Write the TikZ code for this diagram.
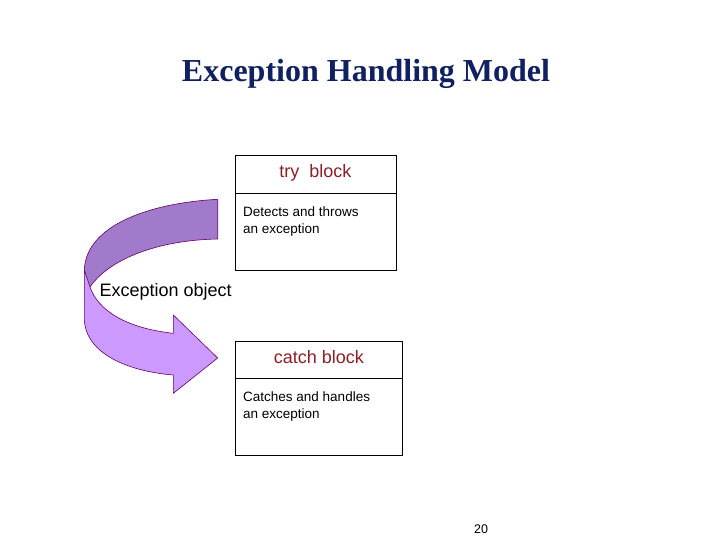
\documentclass[tikz,border=0pt]{standalone}
\usepackage{fontspec}
\setmainfont{Liberation Serif}
\setsansfont{Liberation Sans}
\definecolor{titleblue}{RGB}{16,32,96}
\definecolor{headred}{RGB}{140,30,40}
\definecolor{darkband}{RGB}{161,122,203}
\definecolor{lightband}{RGB}{204,153,255}
\definecolor{bandline}{RGB}{102,0,102}
\tikzset{
  boxpart/.style={draw=black, line width=0.8pt, inner sep=0pt, minimum height=#1, anchor=north west},
  headtext/.style={font=\sffamily\fontsize{18}{20}\selectfont, text=headred},
  bodytext/.style={font=\sffamily\fontsize{13.5}{17}\selectfont, align=left, anchor=north west, inner sep=0pt},
  band/.style={draw=bandline, line width=0.6pt, line join=round}
}
\begin{document}
\begin{tikzpicture}[x=1pt,y=-1pt]
\useasboundingbox (0,0) rectangle (720,540);
\fill[white] (0,0) rectangle (720,540);
% title
\node[font=\bfseries\fontsize{32}{36}\selectfont, text=titleblue] (title) at (366,73.5) {Exception Handling Model};
% try block
\node[boxpart=38pt, minimum width=161pt] (tryhead) at (235,155) {};
\node[boxpart=77pt, minimum width=161pt] (trybody) at (235,193) {};
\node[headtext] (trylabel) at (315.5,172.8) {try\ \ block};
\node[bodytext] (trytext) at (243,206.5) {Detects and throws\\an exception};
% catch block
\node[boxpart=37pt, minimum width=167pt] (catchhead) at (235,341) {};
\node[boxpart=77pt, minimum width=167pt] (catchbody) at (235,378) {};
\node[headtext] (catchlabel) at (319,357) {catch block};
\node[bodytext] (catchtext) at (243,391.5) {Catches and handles\\an exception};
% curved arrow
\fill[darkband] (217.7,199.3) .. controls (150,203) and (86,225) .. (84.3,270)
  -- (90,287) .. controls (110,258) and (160,240) .. (217.7,239) -- cycle;
\draw[band] (217.7,239) -- (217.7,199.3) .. controls (150,203) and (86,225) .. (84.3,270);
\draw[band] (90,287) .. controls (110,258) and (160,240) .. (217.7,239);
\filldraw[band, fill=lightband] (84.3,270) -- (84.3,318) .. controls (84.3,352) and (125,371) .. (173.3,375)
  -- (173.3,393.3) -- (217.7,358) -- (173.3,315) -- (173.3,333.3)
  .. controls (125,328) and (98,310) .. (90,287) -- cycle;
\node[font=\sffamily\fontsize{18}{20}\selectfont, anchor=west, inner sep=0pt] (excobj) at (99.5,292) {Exception object};
% page number
\node[font=\sffamily\fontsize{12.5}{14}\selectfont] (pagenum) at (481,529) {20};
\end{tikzpicture}
\end{document}
